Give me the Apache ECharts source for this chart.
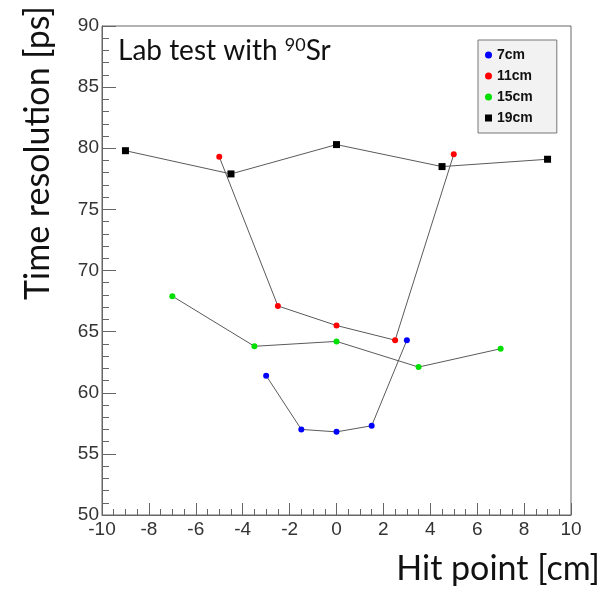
<!DOCTYPE html>
<html>
<head>
<meta charset="utf-8">
<script src="https://cdn.jsdelivr.net/npm/echarts@6/dist/echarts.min.js"></script>
<style>html,body{margin:0;padding:0;background:#fff;}#c{width:606px;height:590px;}</style>
</head>
<body>
<div id="c"></div>
<script>
const seriesNames = ['7cm', '11cm', '15cm', '19cm'];
const x7 = [-3, -1.5, 0, 1.5, 3];
const y7 = [61.4, 57.0, 56.8, 57.3, 64.3];
const x11 = [-5, -2.5, 0, 2.5, 5];
const y11 = [79.3, 67.1, 65.5, 64.3, 79.5];
const x15 = [-7, -3.5, 0, 3.5, 7];
const y15 = [67.9, 63.8, 64.2, 62.1, 63.6];
const x19 = [-9, -4.5, 0, 4.5, 9];
const y19 = [79.8, 77.9, 80.3, 78.5, 79.1];
const xTicks = [-10, -8, -6, -4, -2, 0, 2, 4, 6, 8, 10];
const yTicks = [50, 55, 60, 65, 70, 75, 80, 85, 90];

const colors = ['#0000ff', '#ff0000', '#00e000', '#000000'];
const xs = [x7, x11, x15, x19];
const ys = [y7, y11, y15, y19];

const chart = echarts.init(document.getElementById('c'), null, {renderer: 'canvas'});
const series = seriesNames.map((n, i) => ({
  name: n,
  type: 'line',
  data: xs[i].map((x, j) => [x, ys[i][j]]),
  symbol: i === 3 ? 'rect' : 'circle',
  symbolSize: i === 3 ? 7 : 6,
  itemStyle: {color: colors[i]},
  lineStyle: {color: '#5a5a5a', width: 1},
  z: 3 + i,
  animation: false
}));

chart.setOption({
  animation: false,
  grid: {left: 102, right: 35, top: 26, bottom: 75, show: true, borderColor: '#666', borderWidth: 1, backgroundColor: 'transparent'},
  xAxis: {
    type: 'value', min: xTicks[0], max: xTicks[xTicks.length - 1], interval: 2,
    axisLine: {show: true, onZero: false, lineStyle: {color: '#666'}},
    axisTick: {show: true, inside: true, length: 12, lineStyle: {color: '#666'}},
    minorTick: {show: true, splitNumber: 4, length: 6, lineStyle: {color: '#666'}},
    splitLine: {show: false},
    axisLabel: {fontFamily: 'Liberation Sans, Arial', fontSize: 19, color: '#333', margin: 5, showMinLabel: true, showMaxLabel: true}
  },
  yAxis: {
    type: 'value', min: yTicks[0], max: yTicks[yTicks.length - 1], interval: 5,
    axisLine: {show: true, onZero: false, lineStyle: {color: '#666'}},
    axisTick: {show: true, inside: true, length: 14, lineStyle: {color: '#666'}},
    minorTick: {show: true, splitNumber: 5, length: 7, lineStyle: {color: '#666'}},
    splitLine: {show: false},
    axisLabel: {fontFamily: 'Liberation Sans, Arial', fontSize: 19, color: '#333', margin: 3, showMinLabel: true, showMaxLabel: true}
  },
  legend: {
    orient: 'vertical', left: 478, top: 40,
    backgroundColor: '#f2f2f2', borderColor: '#777', borderWidth: 1,
    padding: [8, 24, 8, 7],
    itemWidth: 7, itemHeight: 7, itemGap: 7,
    data: seriesNames.map((n, i) => ({name: n, icon: i === 3 ? 'rect' : 'circle'})),
    textStyle: {fontFamily: 'Liberation Sans, Arial', fontWeight: 'bold', fontSize: 14, color: '#111'}
  },
  graphic: [
    {type: 'text', left: 118, top: 36, style: {
      text: '{a|Lab test with }{s|90}{a|Sr}',
      rich: {
        a: {fontFamily: 'Lato', fontSize: 28, fill: '#111', verticalAlign: 'bottom'},
        s: {fontFamily: 'Lato', fontSize: 18, fill: '#111', padding: [0, 0, 11, 0], verticalAlign: 'bottom'}
      }
    }},
    {type: 'text', x: 38, y: 153, rotation: Math.PI / 2, style: {
      text: 'Time resolution [ps]', fontFamily: 'Lato', fontSize: 34, fill: '#111',
      align: 'center', verticalAlign: 'middle'
    }},
    {type: 'text', right: 6, top: 552, style: {
      text: 'Hit point [cm]', fontFamily: 'Lato', fontSize: 34, fill: '#111'
    }}
  ],
  series: series
});
</script>
</body>
</html>
